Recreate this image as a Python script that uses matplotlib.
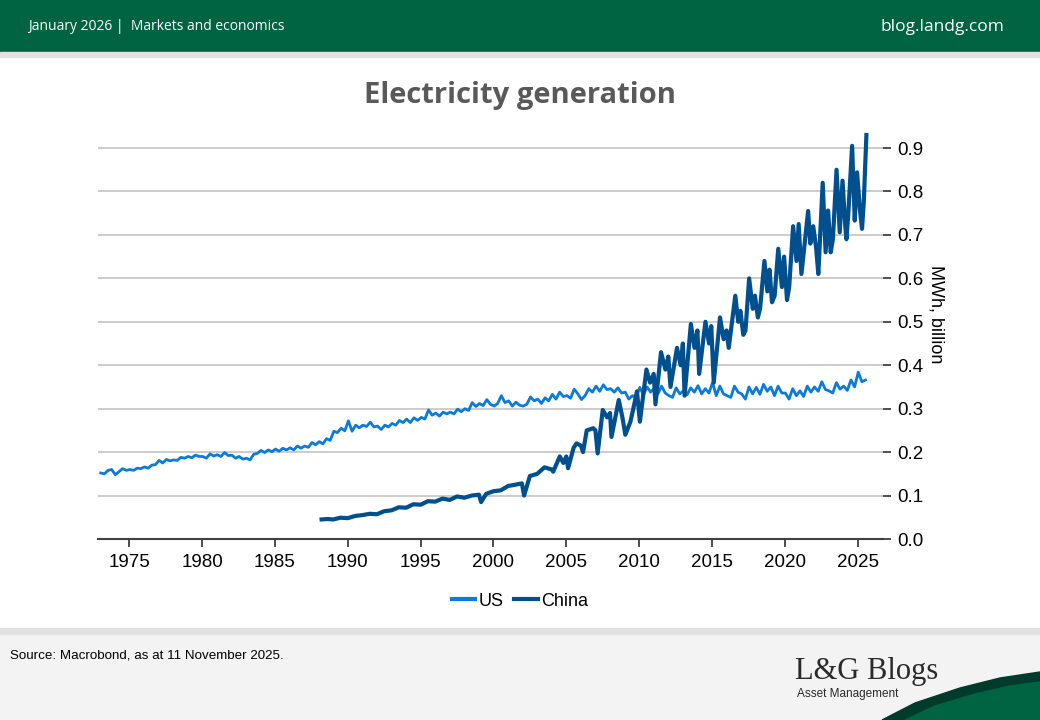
import numpy as np
import matplotlib
matplotlib.use("Agg")
import matplotlib.pyplot as plt
from matplotlib.patches import Rectangle, Polygon

# US, quarterly readings (Jan, Apr, Jul, Oct) from 1973
us_values = [
    0.152, 0.150, 0.158, 0.160,  # 1973
    0.148, 0.155, 0.162, 0.158,
    0.160, 0.158, 0.163, 0.162,  # 1975
    0.166, 0.163, 0.170, 0.171,
    0.181, 0.175, 0.183, 0.180,
    0.182, 0.181, 0.188, 0.186,
    0.190, 0.187, 0.193, 0.190,
    0.190, 0.186, 0.196, 0.191,  # 1980
    0.194, 0.190, 0.199, 0.192,
    0.193, 0.186, 0.190, 0.184,
    0.186, 0.182, 0.195, 0.197,
    0.204, 0.199, 0.205, 0.201,
    0.207, 0.202, 0.209, 0.205,  # 1985
    0.210, 0.205, 0.214, 0.209,
    0.214, 0.211, 0.222, 0.217,
    0.224, 0.219, 0.231, 0.227,
    0.248, 0.245, 0.255, 0.249,
    0.272, 0.248, 0.262, 0.256,  # 1990
    0.262, 0.259, 0.269, 0.258,
    0.260, 0.252, 0.262, 0.258,
    0.266, 0.262, 0.273, 0.268,
    0.276, 0.268, 0.279, 0.273,
    0.280, 0.276, 0.297, 0.285,  # 1995
    0.290, 0.283, 0.292, 0.288,
    0.292, 0.288, 0.299, 0.293,
    0.300, 0.296, 0.314, 0.305,
    0.312, 0.307, 0.321, 0.310,
    0.306, 0.312, 0.330, 0.314,  # 2000
    0.318, 0.306, 0.315, 0.308,
    0.306, 0.310, 0.327, 0.318,
    0.322, 0.312, 0.325, 0.318,
    0.333, 0.322, 0.338, 0.328,
    0.330, 0.324, 0.345, 0.334,  # 2005
    0.321, 0.330, 0.346, 0.338,
    0.352, 0.340, 0.355, 0.344,
    0.346, 0.338, 0.348, 0.336,
    0.338, 0.322, 0.330, 0.325,
    0.349, 0.332, 0.350, 0.338,  # 2010
    0.348, 0.334, 0.352, 0.336,
    0.330, 0.326, 0.348, 0.334,
    0.341, 0.332, 0.348, 0.338,
    0.353, 0.334, 0.346, 0.336,
    0.360, 0.330, 0.352, 0.334,  # 2015
    0.330, 0.326, 0.352, 0.338,
    0.334, 0.322, 0.350, 0.334,
    0.349, 0.333, 0.356, 0.340,
    0.350, 0.330, 0.352, 0.336,
    0.336, 0.322, 0.346, 0.330,  # 2020
    0.341, 0.328, 0.352, 0.338,
    0.350, 0.340, 0.362, 0.344,
    0.341, 0.336, 0.360, 0.345,
    0.352, 0.342, 0.366, 0.350,
    0.384, 0.362, 0.366,         # 2025
]
us_years = 1973.04 + 0.25 * np.arange(len(us_values))

china_years = [
    1988.2, 1988.6, 1989.0, 1989.5, 1990.0, 1990.5, 1991.0, 1991.5,
    1992.0, 1992.5, 1993.0, 1993.5, 1994.0, 1994.5, 1995.0, 1995.5,
    1996.0, 1996.5, 1997.0, 1997.5, 1998.0, 1998.5, 1999.0, 1999.15,
    1999.5, 2000.0, 2000.5, 2001.0, 2001.5, 2001.95, 2002.1, 2002.5,
    2003.0, 2003.5, 2004.0, 2004.1, 2004.55, 2004.8, 2005.0, 2005.12,
    2005.5, 2005.7, 2006.0, 2006.15, 2006.4, 2006.85, 2007.0, 2007.15,
    2007.5, 2007.8, 2008.0, 2008.1, 2008.6, 2008.85, 2009.05, 2009.4,
    2009.6, 2009.85, 2010.05, 2010.5, 2010.75, 2011.0, 2011.12, 2011.5,
    2011.8, 2012.0, 2012.15, 2012.6, 2012.85, 2013.0, 2013.12, 2013.55,
    2013.8, 2014.0, 2014.12, 2014.55, 2014.8, 2014.95, 2015.12, 2015.55,
    2015.8, 2016.0, 2016.15, 2016.6, 2016.8, 2016.95, 2017.15, 2017.3,
    2017.55, 2017.8, 2017.95, 2018.15, 2018.3, 2018.6, 2018.8, 2018.95,
    2019.12, 2019.3, 2019.55, 2019.8, 2019.95, 2020.15, 2020.3, 2020.57,
    2020.8, 2020.95, 2021.14, 2021.3, 2021.6, 2021.75, 2021.95, 2022.15,
    2022.3, 2022.6, 2022.8, 2022.97, 2023.15, 2023.3, 2023.55, 2023.77,
    2023.96, 2024.15, 2024.23, 2024.35, 2024.62, 2024.8, 2024.96, 2025.15,
    2025.3, 2025.42, 2025.6,
]
china_values = [
    0.045, 0.046, 0.045, 0.049, 0.048, 0.053, 0.055, 0.058,
    0.057, 0.064, 0.066, 0.073, 0.072, 0.080, 0.079, 0.087,
    0.086, 0.093, 0.090, 0.098, 0.095, 0.100, 0.102, 0.085,
    0.104, 0.110, 0.112, 0.122, 0.125, 0.128, 0.100, 0.145,
    0.150, 0.165, 0.160, 0.155, 0.190, 0.175, 0.190, 0.163,
    0.210, 0.220, 0.215, 0.200, 0.250, 0.255, 0.250, 0.197,
    0.297, 0.280, 0.290, 0.235, 0.320, 0.280, 0.240, 0.270,
    0.300, 0.340, 0.270, 0.390, 0.360, 0.380, 0.310, 0.430,
    0.390, 0.420, 0.350, 0.440, 0.400, 0.450, 0.330, 0.495,
    0.440, 0.480, 0.380, 0.500, 0.450, 0.490, 0.360, 0.510,
    0.460, 0.480, 0.440, 0.560, 0.500, 0.525, 0.470, 0.480,
    0.600, 0.530, 0.560, 0.510, 0.530, 0.640, 0.570, 0.620,
    0.545, 0.560, 0.668, 0.580, 0.650, 0.550, 0.580, 0.720,
    0.640, 0.725, 0.610, 0.660, 0.755, 0.680, 0.720, 0.670,
    0.610, 0.820, 0.660, 0.756, 0.660, 0.690, 0.850, 0.706,
    0.825, 0.720, 0.690, 0.745, 0.905, 0.733, 0.844, 0.760,
    0.714, 0.775, 0.930,
]

x_ticks = [1975, 1980, 1985, 1990, 1995, 2000, 2005, 2010, 2015, 2020, 2025]
y_ticks = [0.0, 0.1, 0.2, 0.3, 0.4, 0.5, 0.6, 0.7, 0.8, 0.9]

us_color = "#0a7bd8"
china_color = "#00508f"
green = "#006341"
narrow = ["Liberation Sans Narrow", "Liberation Sans", "DejaVu Sans"]

fig = plt.figure(figsize=(10.4, 7.2), dpi=100)
fig.patch.set_facecolor("white")

# header band
fig.patches.append(Rectangle((0, 1 - 52 / 720), 1, 52 / 720, transform=fig.transFigure,
                             color=green, zorder=0))
fig.patches.append(Rectangle((0, 1 - 57 / 720), 1, 5 / 720, transform=fig.transFigure,
                             color="#e1e1e1", zorder=0))
fig.text(28 / 1040, 1 - 26 / 720, "January 2026 |  Markets and economics", color="white",
         fontsize=10, family="Open Sans", va="center", ha="left")
fig.text(1004 / 1040, 1 - 27 / 720, "blog.landg.com", color="white",
         fontsize=12.5, family="Open Sans", va="center", ha="right")

# footer band
fig.patches.append(Rectangle((0, 0), 1, 86 / 720, transform=fig.transFigure,
                             color="#f3f3f3", zorder=0))
fig.patches.append(Rectangle((0, 86 / 720), 1, 6 / 720, transform=fig.transFigure,
                             color="#e1e1e1", zorder=0))
fig.text(10 / 1040, 1 - 656 / 720, "Source: Macrobond, as at 11 November 2025.",
         fontsize=9.6, family=narrow, va="center", ha="left")
fig.text(795 / 1040, 1 - 672 / 720, "L&G Blogs", fontsize=22,
         family="Liberation Serif", color="#2a2a2a", va="center", ha="left")
fig.text(797 / 1040, 1 - 694 / 720, "Asset Management", fontsize=8.5,
         family=narrow, color="#2a2a2a", va="center", ha="left")

swoosh_dark = [(882, 720), (915, 703), (960, 688), (1000, 678), (1040, 672), (1040, 720)]
swoosh_green = [(905, 720), (935, 706), (975, 694), (1010, 686), (1040, 682), (1040, 720)]
fig.patches.append(Polygon([(x / 1040, 1 - y / 720) for x, y in swoosh_dark],
                           transform=fig.transFigure, color="#003b2b", zorder=1))
fig.patches.append(Polygon([(x / 1040, 1 - y / 720) for x, y in swoosh_green],
                           transform=fig.transFigure, color=green, zorder=1))

fig.text(0.5, 1 - 95 / 720, "Electricity generation", fontsize=21, fontweight="bold",
         family="Open Sans", color="#595959", ha="center", va="center")

ax = fig.add_axes([98 / 1040, 1 - 539 / 720, (883 - 98) / 1040, (539 - 126.3) / 720])
ax.plot(us_years, us_values, color=us_color, lw=2.0, label="US", solid_joinstyle="round")
ax.plot(china_years, china_values, color=china_color, lw=3.0, label="China",
        solid_joinstyle="round")

ax.set_xlim(1972.85, 2026.74)
ax.set_ylim(0, 0.95)
ax.set_xticks(x_ticks)
ax.set_yticks(y_ticks)
ax.set_yticklabels([f"{v:.1f}" for v in y_ticks])
ax.yaxis.tick_right()
ax.yaxis.set_label_position("right")
ax.set_ylabel("MWh, billion", rotation=270, fontsize=13, family="Liberation Sans",
              labelpad=18)
ax.yaxis.set_label_coords(1.078, 0.545)
ax.grid(axis="y", color="#c8c8c8", lw=1.3)
ax.set_axisbelow(True)
for s in ["top", "left", "right"]:
    ax.spines[s].set_visible(False)
ax.spines["bottom"].set_color("#404040")
ax.spines["bottom"].set_linewidth(1.5)
ax.tick_params(axis="x", length=6, width=1.3, color="#404040", labelsize=13.5, pad=5)
ax.tick_params(axis="y", length=6, width=1.3, color="#404040", labelsize=13.5, pad=4)
for lab in ax.get_xticklabels() + ax.get_yticklabels():
    lab.set_family("Liberation Sans")

leg = fig.legend(loc="center", bbox_to_anchor=(0.5, 1 - 601 / 720), ncol=2, frameon=False,
                 handlelength=1.3, handletextpad=0.2, columnspacing=0.6,
                 prop={"family": "Liberation Sans", "size": 13})
for line in leg.get_lines():
    line.set_linewidth(3)

fig.savefig("out.png", dpi=100)
